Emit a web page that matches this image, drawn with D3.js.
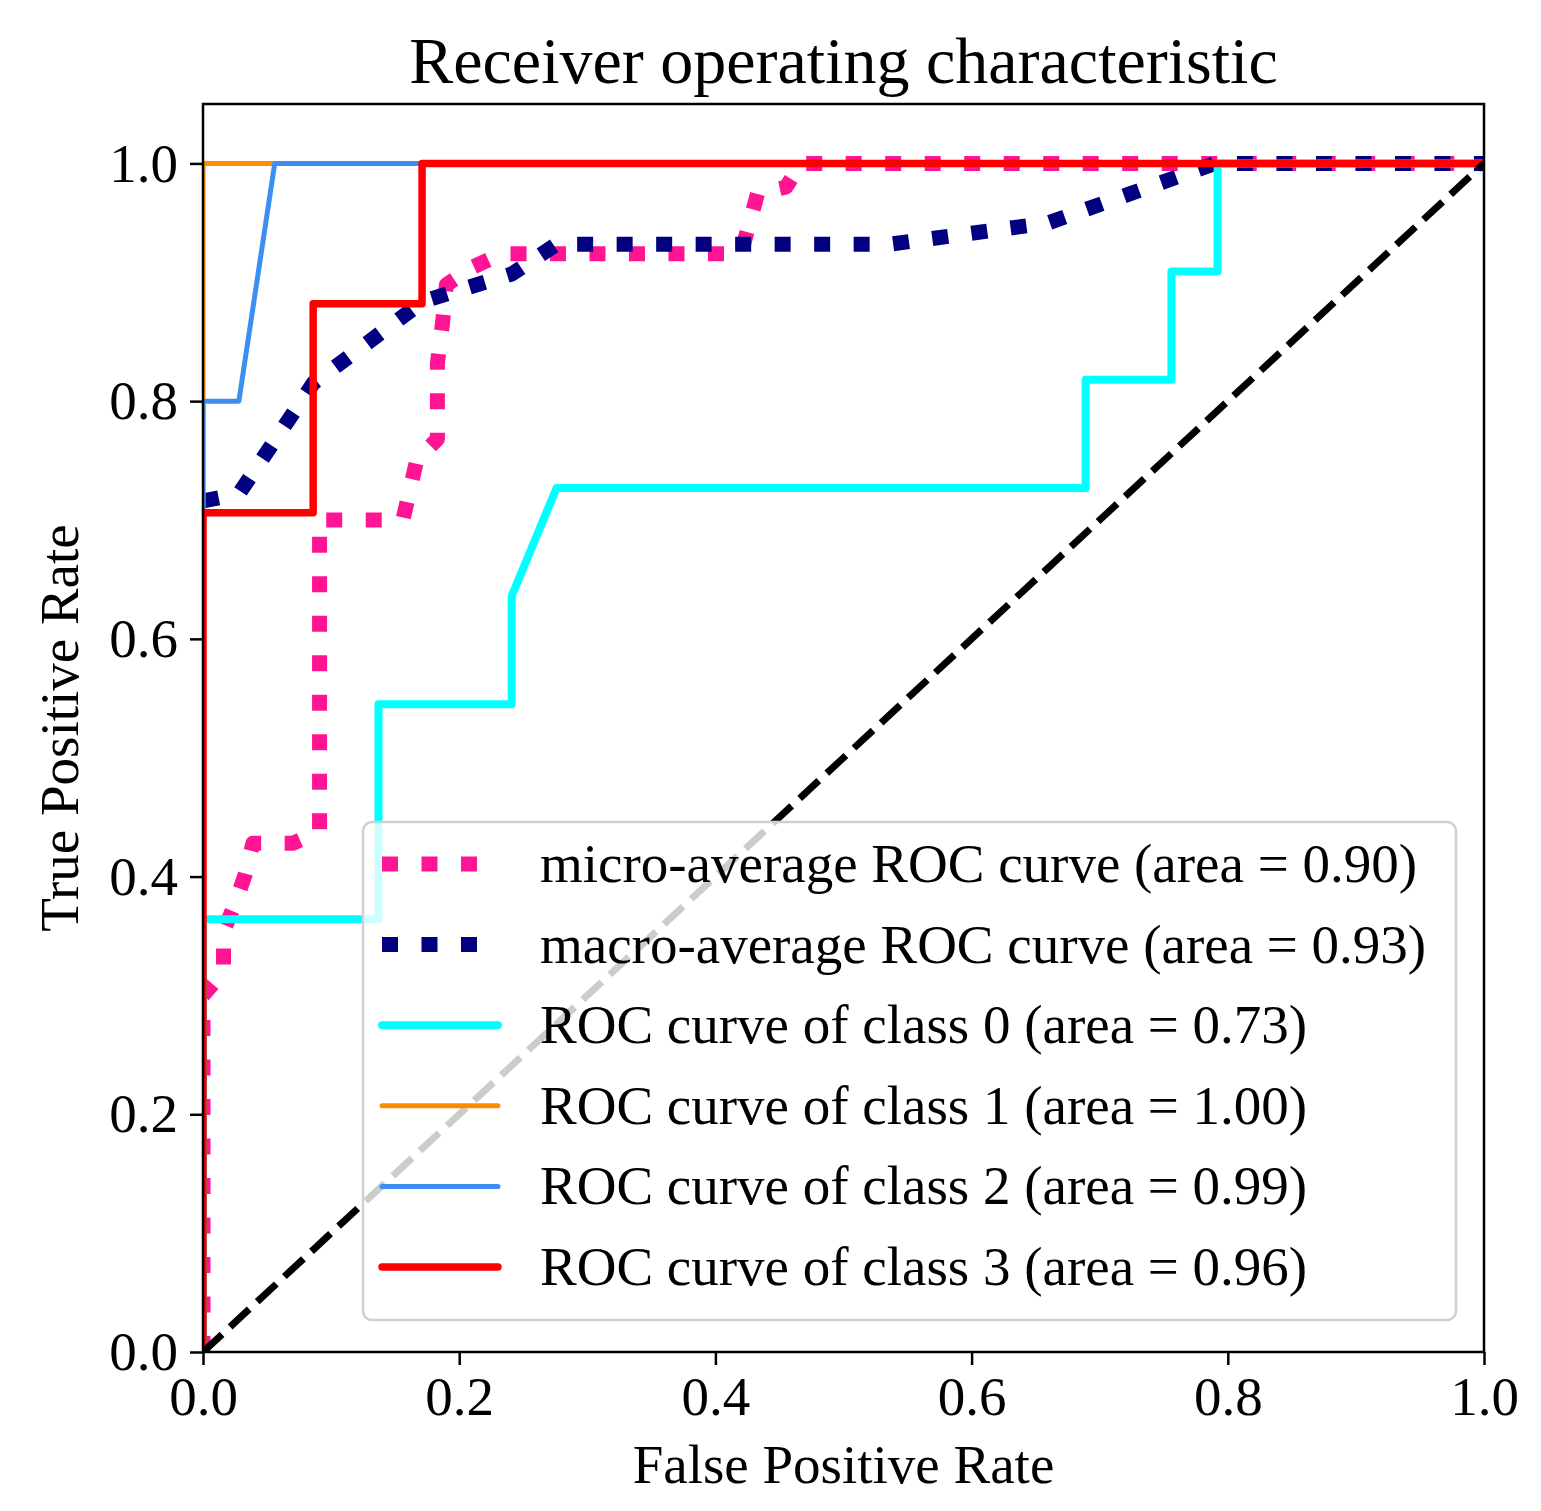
<!DOCTYPE html>
<html>
<head>
<meta charset="utf-8">
<script src="https://cdn.jsdelivr.net/npm/d3@7"></script>
<style>
  body { margin: 0; background: #fff; }
  text { font-family: "Liberation Serif", "Times New Roman", serif; fill: #000; }
</style>
</head>
<body>
<svg id="chart"></svg>
<script>
const width = 1541;
const height = 1511;

// values
const xTicks = [0, 0.2, 0.4, 0.6, 0.8, 1.0];
const yTicks = [0, 0.2, 0.4, 0.6, 0.8, 1.0];

const microFpr = [0, 0, 0.016, 0.016, 0.025, 0.033, 0.039, 0.07, 0.091, 0.091, 0.156, 0.167, 0.183, 0.183, 0.187, 0.19, 0.211, 0.233, 0.42, 0.433, 0.455, 0.467, 1];
const microTpr = [0, 0.30, 0.32, 0.354, 0.377, 0.402, 0.428, 0.428, 0.438, 0.70, 0.70, 0.751, 0.768, 0.832, 0.866, 0.898, 0.913, 0.924, 0.924, 0.975, 0.98, 1, 1];

const macroFpr = [0, 0.028, 0.086, 0.172, 0.241, 0.276, 0.536, 0.66, 0.79, 1];
const macroTpr = [0.716, 0.722, 0.815, 0.884, 0.907, 0.932, 0.932, 0.95, 1, 1];

const class0Fpr = [0, 0, 0.137, 0.137, 0.241, 0.241, 0.276, 0.689, 0.689, 0.756, 0.756, 0.792, 0.792, 1];
const class0Tpr = [0, 0.364, 0.364, 0.545, 0.545, 0.636, 0.727, 0.727, 0.818, 0.818, 0.909, 0.909, 1, 1];
const class1Fpr = [0, 0, 1];
const class1Tpr = [0, 1, 1];
const class2Fpr = [0, 0, 0.028, 0.056, 1];
const class2Tpr = [0, 0.8, 0.8, 1, 1];
const class3Fpr = [0, 0, 0.086, 0.086, 0.171, 0.171, 1];
const class3Tpr = [0, 0.706, 0.706, 0.882, 0.882, 1, 1];

const labels = ["micro-average ROC curve", "macro-average ROC curve",
  "ROC curve of class 0", "ROC curve of class 1", "ROC curve of class 2", "ROC curve of class 3"];
const areas = [0.90, 0.93, 0.73, 1.00, 0.99, 0.96];

// styles (kept apart from the data)
const styles = [
  {color: "#ff1493", w: 15, dash: "16,23.5"},
  {color: "#000080", w: 15, dash: "16,23.5"},
  {color: "#00ffff", w: 8, dash: null},
  {color: "#ff8c00", w: 5, dash: null},
  {color: "#3c8ff0", w: 5, dash: null},
  {color: "#ff0000", w: 7.5, dash: null}
];

const curves = [
  [microFpr, microTpr], [macroFpr, macroTpr],
  [class0Fpr, class0Tpr], [class1Fpr, class1Tpr],
  [class2Fpr, class2Tpr], [class3Fpr, class3Tpr]
].map(([f, t]) => f.map((v, i) => ({x: v, y: t[i]})));

const margin = {left: 203, right: 1484, top: 104, bottom: 1352};

const svg = d3.select("#chart").attr("width", width).attr("height", height);

const x = d3.scaleLinear().domain([0, 1]).range([margin.left, margin.right]);
const y = d3.scaleLinear().domain([0, 1.05]).range([margin.bottom, margin.top]);

svg.append("defs").append("clipPath").attr("id", "plotClip")
  .append("rect")
  .attr("x", margin.left).attr("y", margin.top)
  .attr("width", margin.right - margin.left).attr("height", margin.bottom - margin.top);

const line = d3.line().x(d => x(d.x)).y(d => y(d.y));

const plot = svg.append("g").attr("clip-path", "url(#plotClip)");

curves.forEach((c, i) => {
  plot.append("path")
    .datum(c)
    .attr("d", line)
    .attr("fill", "none")
    .attr("stroke", styles[i].color)
    .attr("stroke-width", styles[i].w)
    .attr("stroke-dasharray", styles[i].dash)
    .attr("stroke-linejoin", "round")
    .attr("stroke-linecap", styles[i].dash ? "butt" : "round");
});

// chance line
plot.append("path")
  .datum([{x: 0, y: 0}, {x: 1, y: 1}])
  .attr("d", line)
  .attr("fill", "none")
  .attr("stroke", "#000")
  .attr("stroke-width", 7)
  .attr("stroke-dasharray", "26,11");

// axes
const xAxis = d3.axisBottom(x).tickValues(xTicks).tickFormat(d3.format(".1f")).tickSize(13).tickPadding(11);
const yAxis = d3.axisLeft(y).tickValues(yTicks).tickFormat(d3.format(".1f")).tickSize(13).tickPadding(12);

const gx = svg.append("g").attr("transform", `translate(0,${margin.bottom})`).call(xAxis);
const gy = svg.append("g").attr("transform", `translate(${margin.left},0)`).call(yAxis);

[gx, gy].forEach(g => {
  g.select(".domain").remove();
  g.selectAll("line").attr("stroke", "#000").attr("stroke-width", 2.5);
  g.selectAll("text").style("font-size", "55px").attr("fill", "#000");
});

// spines
svg.append("rect")
  .attr("x", margin.left).attr("y", margin.top)
  .attr("width", margin.right - margin.left).attr("height", margin.bottom - margin.top)
  .attr("fill", "none").attr("stroke", "#000").attr("stroke-width", 2.5);

// legend
const leg = svg.append("g");
leg.append("rect")
  .attr("x", 363).attr("y", 822).attr("width", 1456 - 363).attr("height", 1320 - 822)
  .attr("rx", 9).attr("ry", 9)
  .attr("fill", "#fff").attr("fill-opacity", 0.8)
  .attr("stroke", "#d0d0d0").attr("stroke-width", 2.5);

const rowY = d3.scaleLinear().domain([0, 5]).range([864, 1267]);

labels.forEach((lab, i) => {
  const cy = rowY(i);
  leg.append("line")
    .attr("x1", 382).attr("x2", 498).attr("y1", cy).attr("y2", cy)
    .attr("stroke", styles[i].color)
    .attr("stroke-width", styles[i].w)
    .attr("stroke-dasharray", styles[i].dash)
    .attr("stroke-linecap", styles[i].dash ? "butt" : "round");
  leg.append("text")
    .attr("x", 540).attr("y", cy + 18)
    .style("font-size", "55px")
    .text(`${lab} (area = ${areas[i].toFixed(2)})`);
});

// titles
svg.append("text")
  .attr("x", (margin.left + margin.right) / 2).attr("y", 83)
  .attr("text-anchor", "middle").style("font-size", "66px")
  .text("Receiver operating characteristic");

svg.append("text")
  .attr("x", (margin.left + margin.right) / 2).attr("y", 1483)
  .attr("text-anchor", "middle").style("font-size", "55px")
  .text("False Positive Rate");

svg.append("text")
  .attr("transform", `translate(78,${(margin.top + margin.bottom) / 2}) rotate(-90)`)
  .attr("text-anchor", "middle").style("font-size", "55px")
  .text("True Positive Rate");
</script>
</body>
</html>
